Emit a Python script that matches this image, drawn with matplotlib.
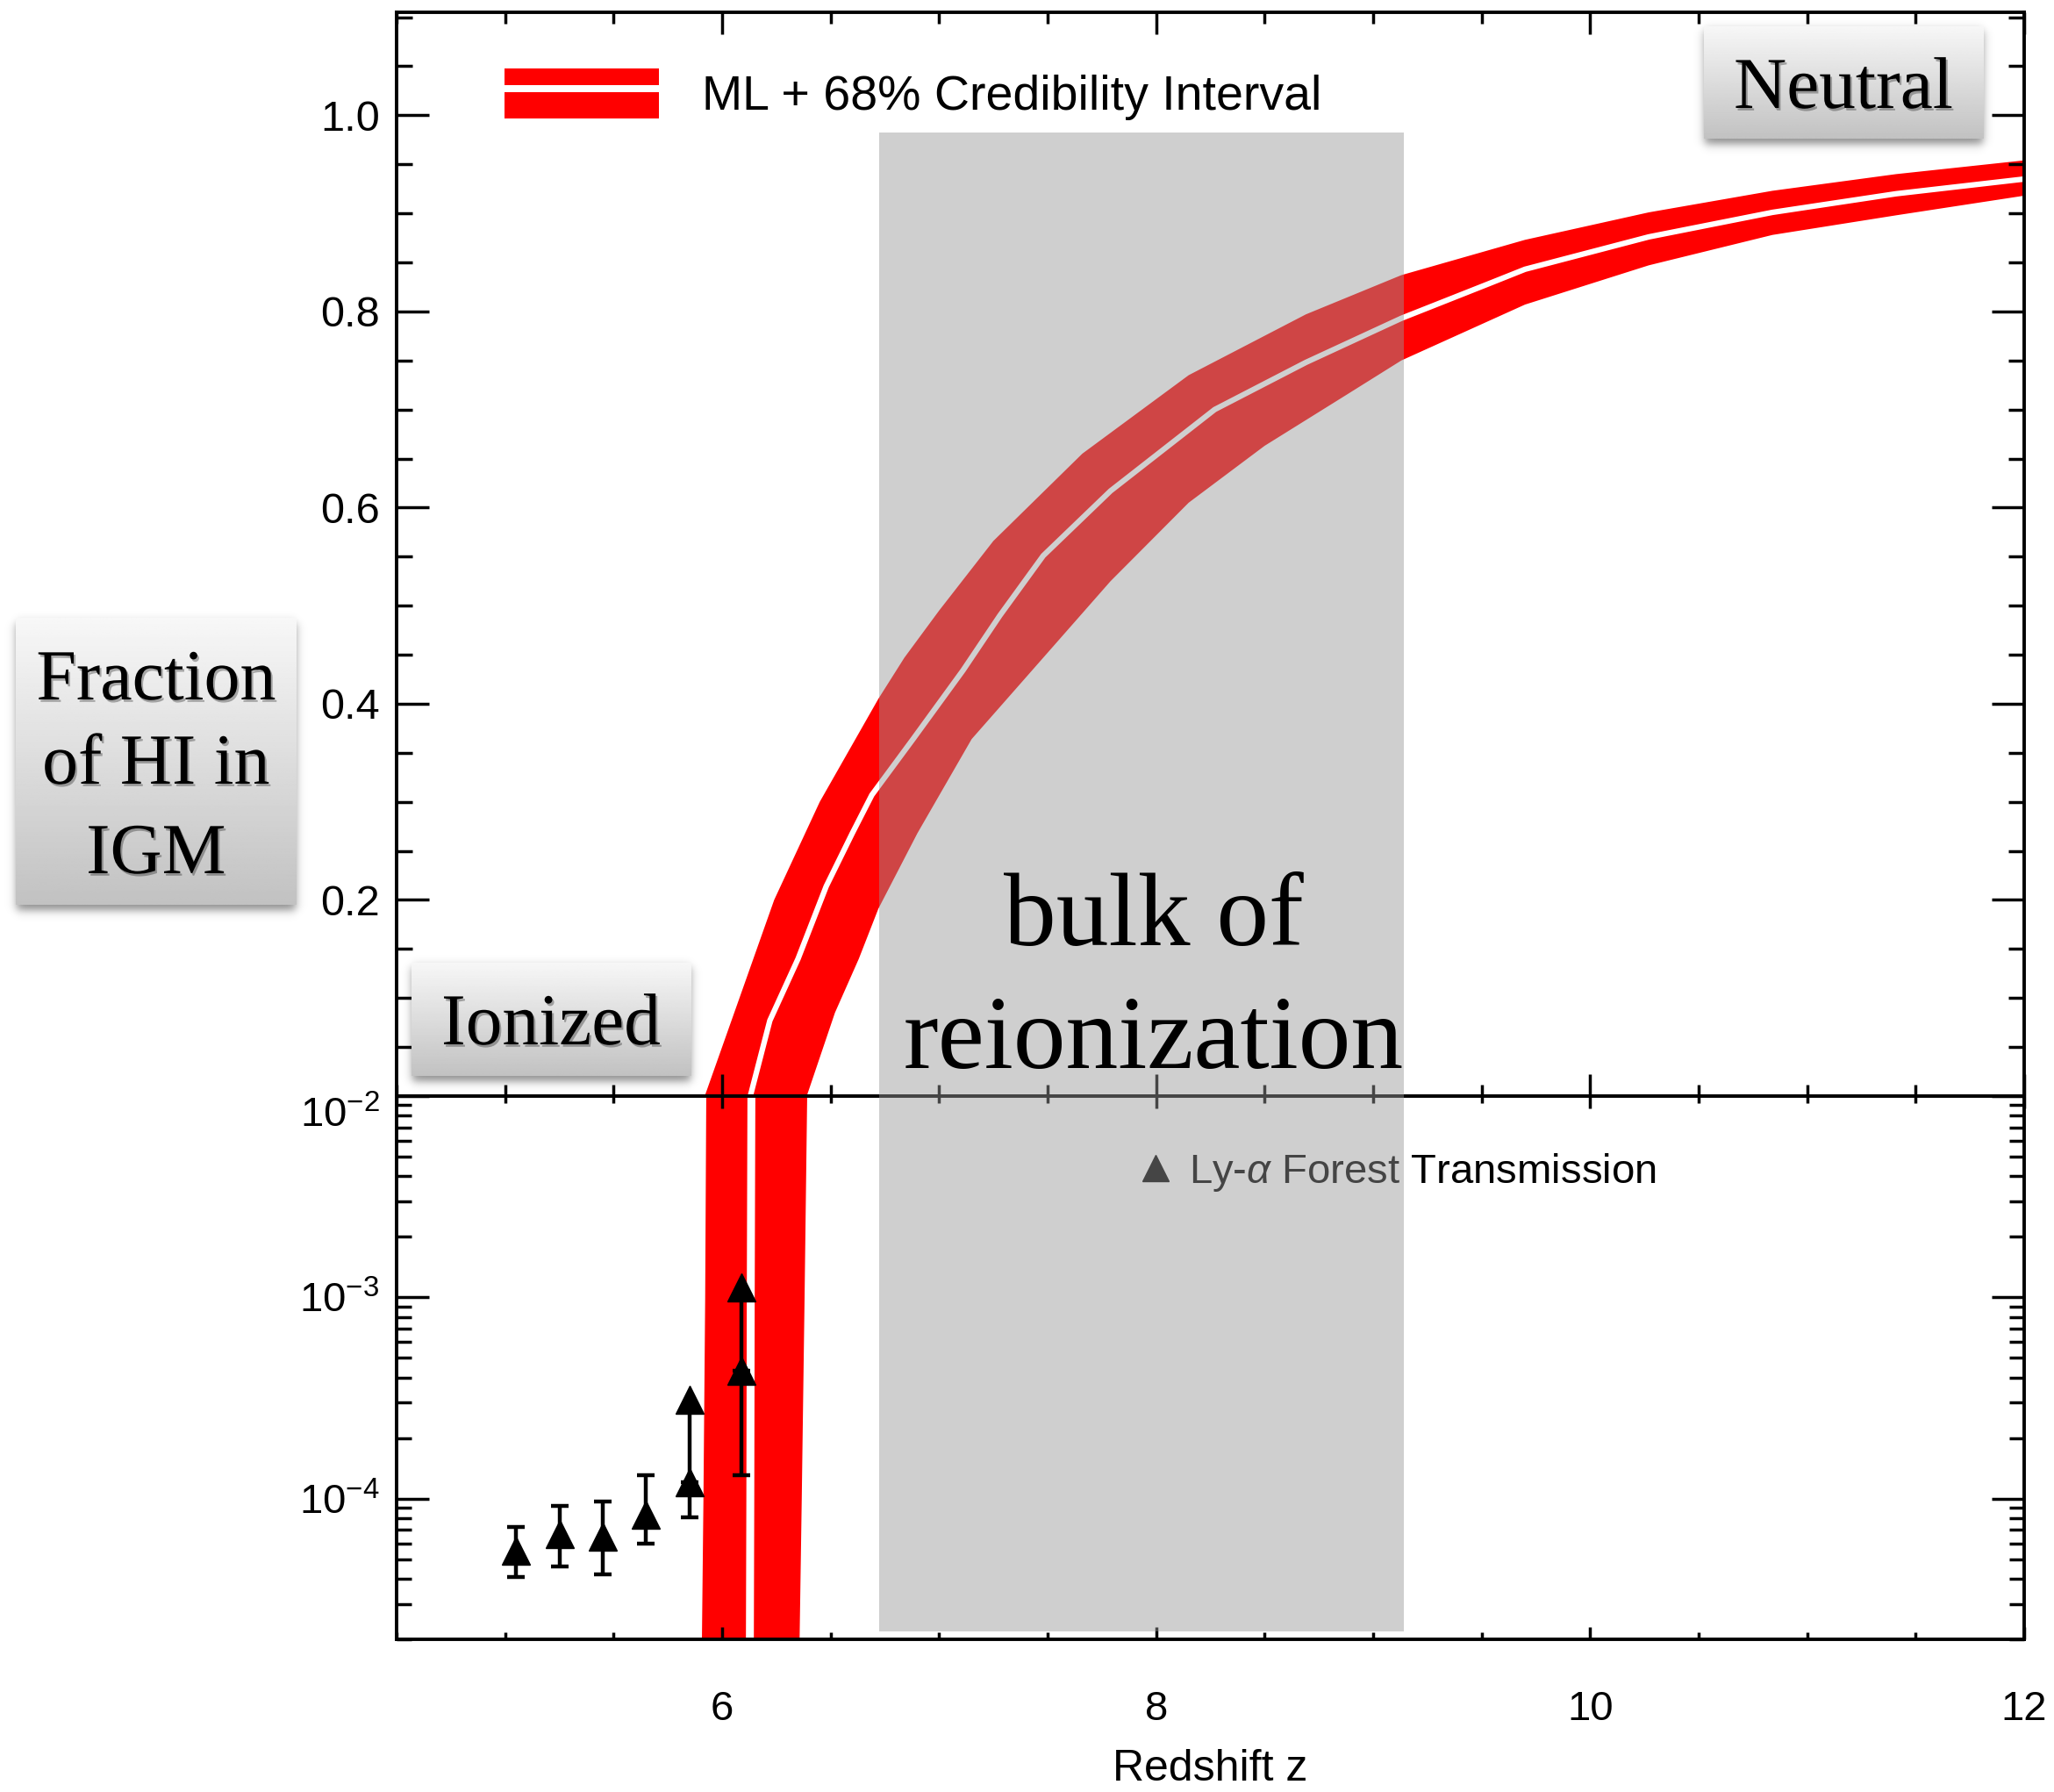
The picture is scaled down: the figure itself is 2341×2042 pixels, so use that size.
import numpy as np
import matplotlib
matplotlib.use('Agg')
import matplotlib.pyplot as plt
import matplotlib.patheffects as pe
from matplotlib.patches import Rectangle, Patch
from matplotlib.lines import Line2D
from matplotlib.legend_handler import HandlerTuple
from matplotlib.ticker import MultipleLocator, FixedLocator, LogLocator

plt.rcParams['font.family'] = ['Liberation Sans', 'DejaVu Sans']
plt.rcParams['mathtext.fontset'] = 'custom'
plt.rcParams['mathtext.rm'] = 'Liberation Sans'
plt.rcParams['mathtext.it'] = 'Liberation Sans:italic'
plt.rcParams['mathtext.bf'] = 'Liberation Sans:bold'

# neutral fraction, 68% band edges
z_upper = [5.92, 6.00, 6.08, 6.24, 6.45, 6.72, 6.84, 7.00, 7.25, 7.66, 8.15, 8.69,
           9.13, 9.70, 10.27, 10.84, 11.41, 12.0]
x_upper = [0.0, 0.05, 0.10, 0.20, 0.30, 0.405, 0.447, 0.495, 0.566, 0.655, 0.735, 0.797,
           0.837, 0.873, 0.901, 0.923, 0.940, 0.954]
z_lower = [6.39, 6.52, 6.63, 6.72, 6.90, 7.15, 7.48, 7.79, 8.15, 8.50, 8.87, 9.13,
           9.70, 10.27, 10.84, 11.41, 12.0]
x_lower = [0.0, 0.085, 0.14, 0.191, 0.268, 0.364, 0.447, 0.525, 0.605, 0.663, 0.714, 0.750,
           0.807, 0.847, 0.878, 0.898, 0.918]
# maximum likelihood curve
z_ml = [6.13, 6.22, 6.35, 6.48, 6.60, 6.69, 6.88, 7.11, 7.28, 7.48, 7.79, 8.27, 8.69,
        9.13, 9.53, 9.70, 10.27, 10.84, 11.41, 12.0]
x_ml = [0.0, 0.077, 0.14, 0.214, 0.268, 0.307, 0.364, 0.434, 0.49, 0.551, 0.617, 0.700, 0.748,
        0.793, 0.828, 0.843, 0.876, 0.901, 0.920, 0.935]

# same curves in the log panel
log_levels = [2e-5, 1e-4, 1e-3, 1e-2]
z_upper_log = [5.905, 5.912, 5.920, 5.925]
z_ml_log = [6.128, 6.130, 6.132, 6.135]
z_lower_log = [6.355, 6.365, 6.378, 6.390]

# Ly-alpha forest transmission points
lya_z = [5.05, 5.25, 5.45, 5.65, 5.85, 6.09]
lya_x = [5.5e-5, 6.7e-5, 6.5e-5, 8.3e-5, 1.21e-4, 4.3e-4]
lya_lo = [4.1e-5, 4.6e-5, 4.2e-5, 6.0e-5, 8.1e-5, 1.31e-4]
lya_hi = [7.2e-5, 9.2e-5, 9.7e-5, 1.31e-4, 3.1e-4, 1.12e-3]
lya_arrow = [False, False, False, False, True, True]

W, H = 2341, 2042


def frect(x0, y0, x1, y1):
    return [x0 / W, 1 - y1 / H, (x1 - x0) / W, (y1 - y0) / H]


def fx(x):
    return x / W


def fy(y):
    return 1 - y / H


fig = plt.figure(figsize=(W / 100, H / 100), dpi=100)

ax1 = fig.add_axes(frect(452, 14, 2307, 1249))
ax2 = fig.add_axes(frect(452, 1249, 2307, 1868))

# top panel
ax1.fill(np.r_[z_upper, z_lower[::-1]], np.r_[x_upper, x_lower[::-1]], color='red', lw=0)
ax1.plot(z_ml, x_ml, color='white', lw=4.5, solid_capstyle='butt')
ax1.set_xlim(4.5, 12)
ax1.set_ylim(0, 1.105)
ax1.yaxis.set_major_locator(FixedLocator([0.2, 0.4, 0.6, 0.8, 1.0]))
ax1.yaxis.set_major_formatter(plt.FixedFormatter(['0.2', '0.4', '0.6', '0.8', '1.0']))
ax1.yaxis.set_minor_locator(MultipleLocator(0.05))
ax1.xaxis.set_major_locator(MultipleLocator(2))
ax1.xaxis.set_minor_locator(MultipleLocator(0.5))
ax1.tick_params(axis='both', which='both', direction='in', width=2.5, top=True, right=True,
                labelbottom=False, colors='black')
ax1.tick_params(axis='y', which='major', length=26.6, labelsize=35, pad=14)
ax1.tick_params(axis='y', which='minor', length=13)
ax1.tick_params(axis='x', which='major', length=18)
ax1.tick_params(axis='x', which='minor', length=9.4)

# bottom panel
ax2.fill_betweenx(log_levels, z_upper_log, z_lower_log, color='red', lw=0)
ax2.plot(z_ml_log, log_levels, color='white', lw=6.5)
ax2.set_yscale('log')
ax2.set_xlim(4.5, 12)
ax2.set_ylim(2e-5, 1e-2)
ax2.yaxis.set_major_locator(FixedLocator([1e-4, 1e-3, 1e-2]))
ax2.yaxis.set_minor_locator(LogLocator(base=10, subs=np.arange(2, 10)))
ax2.xaxis.set_major_locator(MultipleLocator(2))
ax2.xaxis.set_minor_locator(MultipleLocator(0.5))
ax2.tick_params(axis='both', which='both', direction='in', width=2.5, top=True, right=True)
ax2.tick_params(axis='y', which='major', length=26.6, labelsize=34, pad=14)
ax2.tick_params(axis='y', which='minor', length=12.2)
ax2.tick_params(axis='x', which='major', length=10, labelsize=34, pad=42)
ax2.tick_params(axis='x', which='minor', length=5.5)
ax2.set_xlabel('Redshift z', fontsize=36, labelpad=16)
# the 10^-2 label sits below its tick, under the panel divider
ax2.yaxis.get_major_ticks()[2].label1.set_verticalalignment('top')

lz = np.array(lya_z)
lx = np.array(lya_x)
llo = np.array(lya_lo)
lhi = np.array(lya_hi)
arr = np.array(lya_arrow)
ax2.errorbar(lz[~arr], lx[~arr], yerr=[lx[~arr] - llo[~arr], lhi[~arr] - lx[~arr]],
             fmt='^', color='black', ms=23, elinewidth=3.2, capsize=7, capthick=3.2)
ax2.errorbar(lz[arr], lx[arr], yerr=[lx[arr] - llo[arr], np.zeros(arr.sum())],
             fmt='^', color='black', ms=23, elinewidth=3.2, capsize=7, capthick=3.2)
ax2.vlines(lz[arr], lx[arr], lhi[arr], color='black', lw=3.2)
ax2.plot(lz[arr], lhi[arr], '^', color='black', ms=23)

for ax in (ax1, ax2):
    for sp in ax.spines.values():
        sp.set_linewidth(2.8)

# legends
leg1 = ax1.legend(handles=[(Patch(fc='red', ec='none'), Line2D([], [], color='white', lw=5.8))],
                  labels=['ML + 68% Credibility Interval'],
                  handler_map={tuple: HandlerTuple(ndivide=1, pad=0)},
                  loc='center left', bbox_to_anchor=(0.0663, 0.9245), frameon=False,
                  fontsize=40, handlelength=3.17, handleheight=1.2, handletextpad=0.88,
                  borderpad=0, borderaxespad=0)
leg2 = ax2.legend(handles=[Line2D([], [], ls='none', marker='^', ms=22, color='black')],
                  labels=[r'Ly-$\alpha$ Forest Transmission'],
                  loc='center left', bbox_to_anchor=(0.456, 0.8595), frameon=False,
                  fontsize=34, handlelength=0.8, handletextpad=0.4, numpoints=1,
                  borderpad=0, borderaxespad=0)

# gray overlay for the bulk of reionization
fig.add_artist(Rectangle((fx(1002), fy(1859)), (1600 - 1002) / W, (1859 - 151) / H,
                         transform=fig.transFigure, fc=(0.596, 0.596, 0.596), alpha=0.46,
                         ec='none', zorder=5))
serif = ['Liberation Serif', 'DejaVu Serif']
fig.text(fx(1315), fy(1077), 'bulk of', ha='center', va='baseline', fontsize=86,
         family=serif, zorder=6)
fig.text(fx(1315), fy(1217), 'reionization', ha='center', va='baseline', fontsize=86,
         family=serif, zorder=6)


def add_box(x0, y0, x1, y1):
    m = 22
    sx = np.arange(x0 - m, x1 + m) + 0.5
    sy = np.arange(y0 - m, y1 + m) + 0.5
    gx = 1 / (1 + np.exp(-(sx - x0 - 1) / 3.0)) / (1 + np.exp((sx - x1 + 1) / 3.0))
    gy = 1 / (1 + np.exp(-(sy - y0 - 6) / 3.0)) / (1 + np.exp((sy - y1 - 6) / 3.0))
    rgba = np.zeros((len(sy), len(sx), 4))
    rgba[..., 3] = np.outer(gy, gx) * 0.45
    sax = fig.add_axes(frect(x0 - m, y0 - m, x1 + m, y1 + m), zorder=3)
    sax.imshow(rgba, aspect='auto')
    sax.axis('off')
    bax = fig.add_axes(frect(x0, y0, x1, y1), zorder=4)
    grad = np.linspace(0.97, 0.76, 200)[:, None]
    bax.imshow(grad, cmap='gray', vmin=0, vmax=1, aspect='auto')
    bax.axis('off')


shadow = [pe.withSimplePatchShadow(offset=(1.5, -2), shadow_rgbFace='black', alpha=0.3)]

add_box(18, 704, 338, 1031)
for line, base in zip(['Fraction', 'of HI in', 'IGM'], [797, 893, 995]):
    fig.text(fx(178), fy(base), line, ha='center', va='baseline', fontsize=59,
             family=serif, zorder=6, path_effects=shadow)

add_box(1942, 30, 2261, 158)
fig.text(fx(2101), fy(123), 'Neutral', ha='center', va='baseline', fontsize=60,
         family=serif, zorder=6, path_effects=shadow)

add_box(469, 1097, 788, 1226)
fig.text(fx(628), fy(1190), 'Ionized', ha='center', va='baseline', fontsize=60,
         family=serif, zorder=6, path_effects=shadow)

fig.savefig('out.png', dpi=100)
